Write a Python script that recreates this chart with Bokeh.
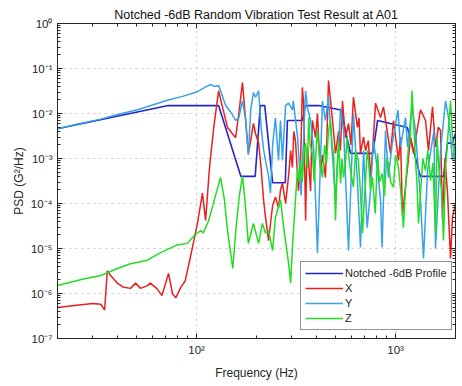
from bokeh.plotting import figure
from bokeh.models import LogAxis, Legend, LegendItem, FixedTicker, Range1d
from bokeh.embed import file_html
from bokeh.resources import INLINE

# ---------------- data ----------------
prof_f = [20, 72, 129, 167, 197, 209, 220, 241, 279, 286, 340, 352, 410, 530,
          594, 768, 812, 1146, 1332, 1742, 1822, 1930, 2000]
prof_v = [4.6e-3, 1.5e-2, 1.5e-2, 4e-4, 4e-4, 1.5e-2, 1.5e-2, 2.9e-4, 2.9e-4, 7e-3,
          7e-3, 1.5e-2, 1.5e-2, 1.2e-2, 1.3e-3, 1.3e-3, 7e-3, 4.9e-3, 4e-4, 4e-4,
          2.2e-3, 2.2e-3, 3.6e-3]

x_f = [20, 25, 30, 33, 34.5, 35.6, 37, 40, 42.6, 46.5,
       49.4, 52.3, 56.6, 58.6, 63, 67, 72.3, 75.6, 78.6, 83.5,
       87.6, 93, 101, 107, 111, 116, 122, 129, 136, 143,
       151, 157, 163, 170, 176, 182, 187, 193, 198, 205,
       211, 217, 222, 230, 235, 241, 249, 258, 264, 270,
       280, 290, 297, 303, 308, 314, 325, 333, 340, 345,
       353, 357, 361, 374, 378, 382, 396, 405, 412, 420,
       429, 444, 452, 460, 471, 482, 499, 517, 528, 541,
       560, 580, 597, 614, 643, 655, 666, 690, 706, 730,
       748, 770, 793, 840, 869, 911, 943, 976, 1034, 1058,
       1083, 1148, 1190, 1230, 1280, 1334, 1414, 1463, 1533, 1587,
       1640, 1682, 1721, 1770, 1824, 1888, 1932, 2000]
x_v = [4.9e-7, 5.5e-7, 6e-7, 5.8e-7, 4.3e-7, 3.2e-6, 2.5e-6, 1.7e-6, 1.4e-6, 1.3e-6,
       1.7e-6, 1.3e-6, 1.5e-6, 1.7e-6, 1.3e-6, 9e-7, 2.8e-6, 1e-6, 8e-7, 1.4e-6,
       1.9e-6, 6.3e-6, 3.6e-5, 1.7e-4, 4.2e-5, 6e-4, 5e-3, 3.2e-2, 1.2e-2, 4.9e-3,
       3.6e-3, 2.9e-3, 1e-2, 4.9e-2, 8e-3, 1.3e-3, 2.5e-3, 6e-3, 3.5e-3, 2.2e-3,
       6e-4, 1.2e-4, 4.9e-5, 1.5e-5, 3.5e-5, 9e-5, 1.4e-4, 8e-5, 2e-4, 2.8e-4,
       1e-4, 4.2e-4, 1.5e-3, 6.3e-4, 4e-3, 2.5e-3, 1.9e-4, 7.7e-4, 3.8e-2, 1.7e-2,
       4.2e-5, 6e-4, 1.8e-3, 1.9e-4, 1.5e-3, 7e-3, 2.9e-3, 1e-2, 2e-3, 5.4e-4,
       1.2e-3, 3.8e-4, 3e-3, 5.4e-2, 2e-2, 7e-3, 1.3e-3, 4e-3, 1.5e-3, 1.9e-2,
       2.9e-3, 6e-3, 2e-3, 2.3e-2, 4.9e-3, 8e-3, 1.3e-3, 3e-3, 1.5e-3, 2.5e-3,
       3.8e-4, 2e-3, 1.7e-2, 8.1e-3, 1.4e-2, 3.6e-3, 1.3e-3, 7e-3, 9e-4, 3e-3,
       5.5e-5, 6.3e-4, 3e-3, 1.3e-3, 4e-3, 1.2e-2, 7e-3, 1.5e-3, 1.4e-2, 1.8e-3,
       5e-3, 4.2e-3, 4.5e-5, 1e-3, 1.7e-4, 6e-6, 5e-5, 1e-4]

y_f = [20, 25, 33, 40, 50, 60, 72, 85, 100, 110,
       117, 123, 129, 133, 140, 150, 157, 163, 170, 176,
       182, 187, 193, 198, 205, 211, 217, 222, 230, 235,
       241, 249, 258, 264, 270, 280, 290, 303, 306, 322,
       335, 353, 361, 374, 388, 405, 429, 444, 460, 471,
       499, 529, 548, 580, 614, 643, 666, 690, 720, 748,
       774, 812, 840, 855, 890, 920, 960, 1028, 1058, 1122,
       1148, 1210, 1259, 1334, 1381, 1448, 1560, 1587, 1682, 1782,
       1855, 1932, 2000]
y_v = [4.6e-3, 5.8e-3, 7.5e-3, 9.5e-3, 1.2e-2, 1.55e-2, 2e-2, 2.4e-2, 3e-2, 3.8e-2,
       4.4e-2, 4e-2, 4.2e-2, 2.9e-2, 1.5e-2, 1e-2, 7e-3, 8e-3, 1.9e-2, 8e-3,
       1.2e-3, 1.2e-2, 2.9e-2, 2.3e-2, 3.2e-2, 4.9e-3, 1.6e-3, 9e-4, 4e-4, 1.7e-4,
       2e-3, 8e-3, 9e-4, 7e-3, 9e-4, 1.5e-2, 1.7e-2, 1.2e-2, 1.9e-2, 2.9e-3,
       1.5e-4, 3.2e-2, 1.3e-2, 7e-3, 1.5e-3, 8e-6, 1.9e-2, 7e-3, 2.3e-2, 4.9e-3,
       1.2e-4, 1.3e-2, 4.2e-3, 9e-6, 1e-2, 3.2e-4, 1.05e-5, 1.5e-3, 2.9e-5, 1.9e-4,
       2.5e-3, 5.4e-4, 1.2e-4, 1.05e-5, 4.2e-3, 3.8e-4, 2e-3, 1.2e-2, 1.8e-3, 8.1e-3,
       1.8e-3, 1.4e-2, 4.2e-3, 1.2e-4, 6e-6, 5.4e-4, 4.2e-3, 1e-5, 1.5e-3, 1.9e-2,
       7e-3, 9e-4, 2.5e-3]

z_f = [20, 27, 33, 35.6, 40, 46.5, 56.6, 65.6, 80, 90,
       99, 105, 108, 115, 124, 132, 138, 143, 152, 158,
       164, 170, 175, 182, 193, 205, 214, 222, 230, 241,
       249, 264, 274, 290, 297, 303, 315, 322, 328, 333,
       340, 347, 353, 360, 366, 372, 382, 390, 398, 405,
       415, 429, 440, 450, 460, 471, 480, 488, 499, 508,
       517, 529, 538, 548, 560, 570, 580, 595, 614, 630,
       650, 665, 682, 695, 706, 720, 731, 748, 765, 790,
       812, 830, 855, 880, 900, 920, 945, 976, 1000, 1034,
       1060, 1095, 1130, 1161, 1185, 1210, 1235, 1259, 1280, 1304,
       1334, 1370, 1414, 1450, 1498, 1540, 1587, 1615, 1650, 1700,
       1740, 1782, 1830, 1888, 1940, 2000]
z_v = [1.5e-6, 2.1e-6, 2.5e-6, 2.9e-6, 3.6e-6, 4.6e-6, 5.5e-6, 8e-6, 1.2e-5, 1.3e-5,
       2.1e-5, 2.5e-5, 2.2e-5, 4.2e-5, 1.4e-4, 3.8e-4, 1.2e-4, 2.5e-5, 3.6e-6, 3e-5,
       1.5e-4, 4e-4, 1.2e-4, 1.3e-5, 3.6e-5, 1.3e-5, 3.6e-5, 2.2e-5, 2.5e-5, 9e-6,
       4.9e-5, 1.2e-4, 2.9e-5, 4.6e-6, 1.7e-6, 1.05e-5, 1.5e-4, 6e-4, 3e-4, 9e-4,
       3e-4, 1.5e-3, 2.2e-3, 6e-4, 8.1e-3, 2e-3, 1.3e-3, 3e-4, 1.5e-3, 4.2e-3,
       1e-3, 3.8e-4, 2e-3, 8e-4, 4e-3, 7e-3, 2e-3, 1.3e-3, 4.2e-5, 6e-4,
       2.5e-3, 2.8e-4, 1e-3, 3.8e-4, 8e-4, 3e-3, 1.3e-3, 5e-4, 2.3e-4, 1.5e-3,
       9e-4, 2e-4, 2.2e-5, 1e-4, 3.2e-4, 1.5e-3, 9e-4, 2e-4, 3.8e-4, 6e-5,
       1.3e-3, 3e-4, 4.6e-4, 1.5e-4, 1e-3, 7.7e-4, 3e-4, 2.3e-4, 1.2e-3, 6.3e-4,
       2e-4, 2.9e-5, 4e-4, 1.8e-3, 3e-3, 3.2e-2, 5e-3, 9e-4, 3e-4, 3.6e-5,
       1.7e-4, 1e-3, 5.4e-4, 1.5e-3, 3.2e-4, 8e-4, 2.2e-5, 2.9e-3, 6e-4, 2e-4,
       1.5e-5, 6.3e-4, 3e-3, 1.9e-2, 2e-3, 9e-4]

x_ticks = [100, 1000]
x_tick_labels = ["10\u00b2", "10\u00b3"]
y_ticks = [1e-7, 1e-6, 1e-5, 1e-4, 1e-3, 1e-2, 1e-1, 1e0]
y_tick_labels = ["10\u207b\u2077", "10\u207b\u2076", "10\u207b\u2075", "10\u207b\u2074",
                 "10\u207b\u00b3", "10\u207b\u00b2", "10\u207b\u00b9", "10\u2070"]

title = "Notched -6dB Random Vibration Test Result at A01"
series_names = ["Notched -6dB Profile", "X", "Y", "Z"]
colors = ["#2424c8", "#e8201e", "#36a2ea", "#22dd22"]

FONT = "Liberation Sans"
TXT = "#262626"

# ---------------- figure ----------------
p = figure(width=462, height=386, x_axis_type="log", y_axis_type="log",
           x_range=Range1d(20, 2000), y_range=Range1d(1e-7, 1),
           output_backend="svg", toolbar_location=None,
           min_border_left=57, min_border_right=7, min_border_top=23,
           min_border_bottom=48)
p.title.text = title
p.title.align = "center"
p.title.text_font = FONT
p.title.text_font_size = "12.5px"
p.title.text_font_style = "normal"
p.title.text_color = "#111111"
p.title.standoff = 4

xminor = [m * 10.0 ** e for e in range(1, 4) for m in range(2, 10)]
yminor = [m * 10.0 ** e for e in range(-7, 0) for m in range(2, 10)]
xt = FixedTicker(ticks=x_ticks, minor_ticks=xminor)
yt = FixedTicker(ticks=y_ticks, minor_ticks=yminor)

p.xaxis.ticker = xt
p.yaxis.ticker = yt
p.xaxis.major_label_overrides = dict(zip(x_ticks, x_tick_labels))
p.yaxis.major_label_overrides = dict(zip(y_ticks, y_tick_labels))
p.xaxis.axis_label = "Frequency (Hz)"
p.yaxis.axis_label = "PSD (G\u00b2/Hz)"

for ax in [p.xaxis[0], p.yaxis[0]]:
    ax.major_tick_in = 5
    ax.major_tick_out = 0
    ax.minor_tick_in = 3
    ax.minor_tick_out = 0
    ax.axis_line_color = TXT
    ax.major_tick_line_color = TXT
    ax.minor_tick_line_color = TXT
    ax.major_label_text_font = FONT
    ax.major_label_text_font_size = "11.5px"
    ax.major_label_text_color = TXT
    ax.axis_label_text_font = FONT
    ax.axis_label_text_font_size = "12px"
    ax.axis_label_text_font_style = "normal"
    ax.axis_label_text_color = TXT
p.xaxis.major_label_standoff = 5
p.yaxis.major_label_standoff = 5
p.xaxis.axis_label_standoff = 7
p.yaxis.axis_label_standoff = 2

for loc, tk in [("right", yt), ("above", xt)]:
    ax = LogAxis(ticker=tk)
    ax.major_tick_in = 5
    ax.major_tick_out = 0
    ax.minor_tick_in = 3
    ax.minor_tick_out = 0
    ax.major_label_text_font_size = "2px"
    ax.major_label_text_alpha = 0
    ax.major_label_standoff = 0
    ax.axis_line_color = TXT
    ax.major_tick_line_color = TXT
    ax.minor_tick_line_color = TXT
    p.add_layout(ax, loc)

p.xgrid.grid_line_color = "#c8c8c8"
p.ygrid.grid_line_color = "#c8c8c8"
p.xgrid.grid_line_dash = "dotted"
p.ygrid.grid_line_dash = "dotted"
p.outline_line_color = TXT

r0 = p.line(prof_f, prof_v, line_color=colors[0], line_width=1.6)
r1 = p.line(x_f, x_v, line_color=colors[1], line_width=1.5)
r2 = p.line(y_f, y_v, line_color=colors[2], line_width=1.5)
r3 = p.line(z_f, z_v, line_color=colors[3], line_width=1.5)

legend = Legend(items=[LegendItem(label=n, renderers=[r])
                       for n, r in zip(series_names, [r0, r1, r2, r3])],
                location=(243, 8))
legend.label_text_font = FONT
legend.label_text_font_size = "11px"
legend.label_text_color = TXT
legend.glyph_width = 38
legend.glyph_height = 14
legend.label_height = 14
legend.label_standoff = 2
legend.spacing = 1
legend.padding = 4
legend.margin = 0
legend.border_line_color = TXT
legend.border_line_width = 1
legend.background_fill_alpha = 1
p.add_layout(legend)

open("out.html", "w").write(file_html(p, INLINE))
